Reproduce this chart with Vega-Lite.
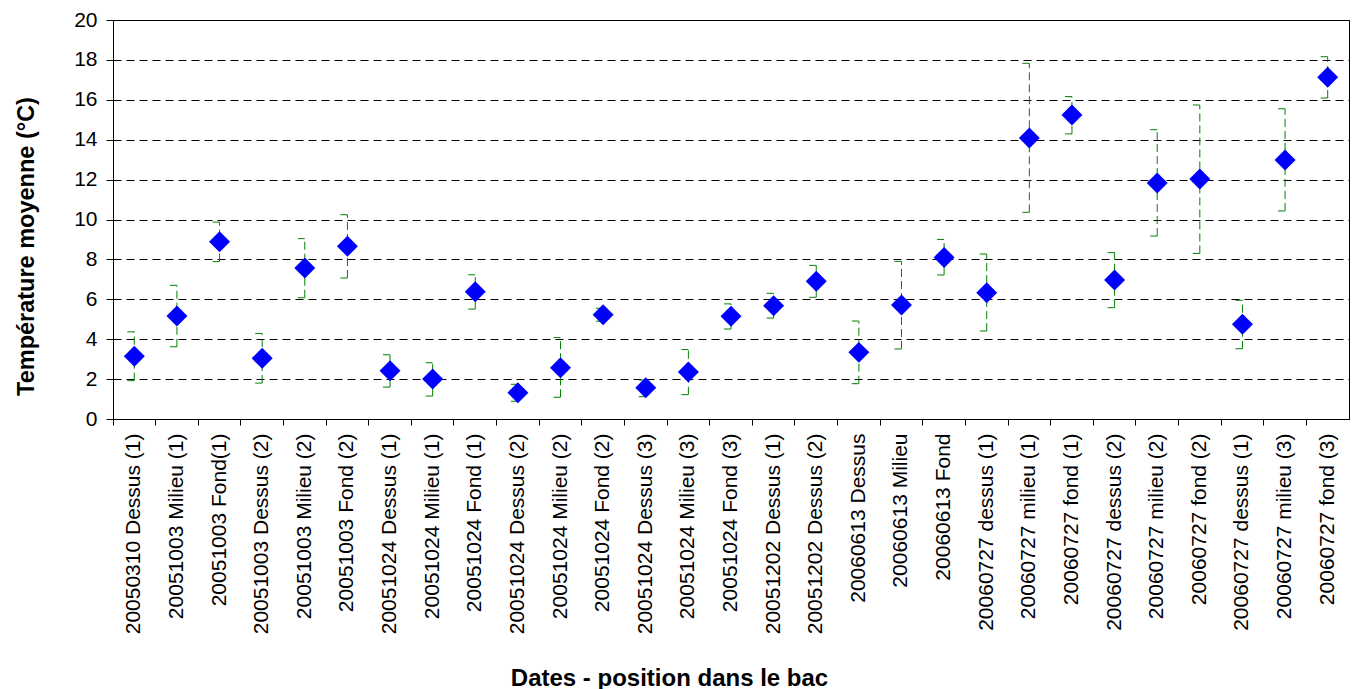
{
  "$schema": "https://vega.github.io/schema/vega-lite/v6.json",
  "autosize": "none",
  "width": 1236,
  "height": 399,
  "padding": {"left": 113, "top": 20, "right": 8, "bottom": 270},
  "background": "white",
  "config": {
    "view": {"stroke": "#000000", "strokeWidth": 1},
    "axis": {"labelFont": "Liberation Sans", "titleFont": "Liberation Sans", "labelColor": "#000000", "titleColor": "#000000", "domainColor": "#000000", "tickColor": "#000000", "domainWidth": 1, "tickWidth": 1},
    "axisY": {"grid": true, "gridDash": [8, 5], "gridColor": "#000000", "gridWidth": 1, "gridOpacity": 1, "tickSize": 7, "labelFontSize": 21, "labelPadding": 9, "labelOverlap": false, "titleFontSize": 23.5, "titleFontWeight": "bold", "titleX": -80, "titleY": 226, "titleAngle": -90, "titleAlign": "center", "titleBaseline": "alphabetic", "titleAnchor": null},
    "axisX": {"grid": false, "labelAngle": -90, "labelFontSize": 21, "labelLimit": 400, "labelOverlap": false, "tickSize": 6, "titleFontSize": 24, "titleFontWeight": "bold", "titleX": 556, "titleY": 266, "titleAlign": "center", "titleBaseline": "alphabetic", "titleAnchor": null}
  },
  "data": {
    "values": [
      {"cat": "01|20050310 Dessus (1)", "m": 3.14, "lo": 1.92, "hi": 4.37},
      {"cat": "02|20051003 Milieu (1)", "m": 5.16, "lo": 3.62, "hi": 6.70},
      {"cat": "03|20051003 Fond(1)", "m": 8.89, "lo": 7.89, "hi": 9.87},
      {"cat": "04|20051003 Dessus (2)", "m": 3.04, "lo": 1.80, "hi": 4.29},
      {"cat": "05|20051003 Milieu (2)", "m": 7.57, "lo": 6.08, "hi": 9.04},
      {"cat": "06|20051003 Fond (2)", "m": 8.66, "lo": 7.07, "hi": 10.24},
      {"cat": "07|20051024 Dessus (1)", "m": 2.42, "lo": 1.60, "hi": 3.22},
      {"cat": "08|20051024 Milieu (1)", "m": 2.00, "lo": 1.15, "hi": 2.82},
      {"cat": "09|20051024 Fond (1)", "m": 6.38, "lo": 5.51, "hi": 7.23},
      {"cat": "10|20051024 Dessus (2)", "m": 1.32, "lo": 0.89, "hi": 1.74},
      {"cat": "11|20051024 Milieu (2)", "m": 2.57, "lo": 1.09, "hi": 4.08},
      {"cat": "12|20051024 Fond (2)", "m": 5.23, "lo": 4.90, "hi": 5.55},
      {"cat": "13|20051024 Dessus (3)", "m": 1.57, "lo": 1.12, "hi": 1.95},
      {"cat": "14|20051024 Milieu (3)", "m": 2.36, "lo": 1.22, "hi": 3.48},
      {"cat": "15|20051024 Fond (3)", "m": 5.15, "lo": 4.51, "hi": 5.77},
      {"cat": "16|20051202 Dessus (1)", "m": 5.68, "lo": 5.06, "hi": 6.30},
      {"cat": "17|20051202 Dessus (2)", "m": 6.90, "lo": 6.10, "hi": 7.70},
      {"cat": "18|20060613 Dessus", "m": 3.34, "lo": 1.77, "hi": 4.91},
      {"cat": "19|20060613 Milieu", "m": 5.71, "lo": 3.51, "hi": 7.90},
      {"cat": "20|20060613 Fond", "m": 8.10, "lo": 7.22, "hi": 9.00},
      {"cat": "21|20060727 dessus (1)", "m": 6.33, "lo": 4.41, "hi": 8.27},
      {"cat": "22|20060727 milieu (1)", "m": 14.08, "lo": 10.36, "hi": 17.83},
      {"cat": "23|20060727 fond (1)", "m": 15.24, "lo": 14.29, "hi": 16.16},
      {"cat": "24|20060727 dessus (2)", "m": 6.97, "lo": 5.58, "hi": 8.34},
      {"cat": "25|20060727 milieu (2)", "m": 11.83, "lo": 9.17, "hi": 14.50},
      {"cat": "26|20060727 fond (2)", "m": 12.03, "lo": 8.30, "hi": 15.74},
      {"cat": "27|20060727 dessus (1)", "m": 4.75, "lo": 3.52, "hi": 5.95},
      {"cat": "28|20060727 milieu (3)", "m": 12.98, "lo": 10.43, "hi": 15.55},
      {"cat": "29|20060727 fond (3)", "m": 17.13, "lo": 16.09, "hi": 18.16}
    ]
  },
  "resolve": {"axis": {"x": "independent"}},
  "layer": [
    {
      "mark": {"type": "rule", "color": "#008000", "strokeWidth": 1, "strokeDash": [8, 4]},
      "encoding": {
        "x": {"field": "cat", "type": "nominal", "sort": null, "scale": {"type": "band", "paddingInner": 0, "paddingOuter": 0}, "axis": {"orient": "bottom", "bandPosition": 0, "labels": false, "title": null, "ticks": true, "domain": true}},
        "y": {"field": "lo", "type": "quantitative", "scale": {"domain": [0, 20], "nice": false}, "axis": {"values": [0, 2, 4, 6, 8, 10, 12, 14, 16, 18, 20]}, "title": "Température moyenne (°C)"},
        "y2": {"field": "hi"}
      }
    },
    {
      "mark": {"type": "point", "shape": "M-1,0L0,0", "size": 196, "filled": false, "stroke": "#008000", "strokeWidth": 1, "opacity": 1},
      "encoding": {
        "x": {"field": "cat", "type": "nominal", "sort": null, "axis": null},
        "y": {"field": "hi", "type": "quantitative", "axis": {"values": [0, 2, 4, 6, 8, 10, 12, 14, 16, 18, 20]}, "title": "Température moyenne (°C)"}
      }
    },
    {
      "mark": {"type": "point", "shape": "M-1,0L0,0", "size": 196, "filled": false, "stroke": "#008000", "strokeWidth": 1, "opacity": 1},
      "encoding": {
        "x": {"field": "cat", "type": "nominal", "sort": null, "axis": null},
        "y": {"field": "lo", "type": "quantitative", "axis": {"values": [0, 2, 4, 6, 8, 10, 12, 14, 16, 18, 20]}, "title": "Température moyenne (°C)"}
      }
    },
    {
      "mark": {"type": "point", "shape": "diamond", "size": 440, "filled": true, "color": "#0000FF", "opacity": 1, "strokeWidth": 0},
      "encoding": {
        "x": {"field": "cat", "type": "nominal", "sort": null, "axis": {"orient": "bottom", "ticks": false, "domain": false, "labelPadding": 14, "labelExpr": "split(datum.label, '|')[1]", "title": "Dates - position dans le bac"}},
        "y": {"field": "m", "type": "quantitative", "axis": {"values": [0, 2, 4, 6, 8, 10, 12, 14, 16, 18, 20]}, "title": "Température moyenne (°C)"}
      }
    }
  ]
}
